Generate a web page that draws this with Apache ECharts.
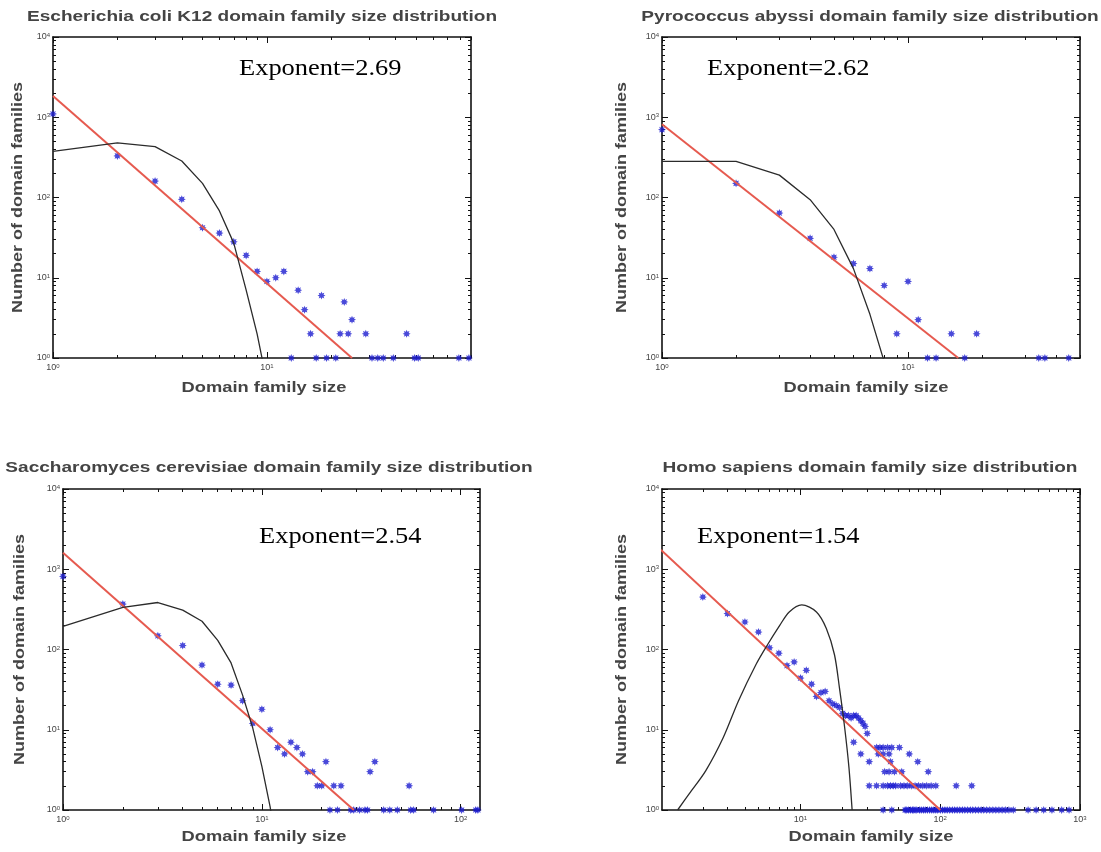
<!DOCTYPE html>
<html>
<head>
<meta charset="utf-8">
<script src="https://cdn.jsdelivr.net/npm/echarts@6/dist/echarts.min.js"></script>
<style>
  html, body { margin: 0; padding: 0; background: #fff; }
  #chart { width: 1101px; height: 852px; }
</style>
</head>
<body>
<div id="chart"></div>
<script>
// ---- data ----

// Escherichia coli K12
const ecoliSize  = [1, 2, 3, 4, 5, 6, 7, 8, 9, 10, 11, 12, 13, 14, 15, 16, 17, 18, 19, 21, 22, 23, 24, 25, 29, 31, 33, 35, 39, 45, 49, 51, 79, 88];
const ecoliCount = [1100, 330, 160, 95, 42, 36, 28, 19, 12, 9, 10, 12, 1, 7, 4, 2, 1, 6, 1, 1, 2, 5, 2, 3, 2, 1, 1, 1, 1, 2, 1, 1, 1, 1];
const ecoliFitX = [1, 25];
const ecoliFitY = [1840, 1];
const ecoliModelX = [1, 2, 3, 4, 5, 6, 7, 8, 9, 10];
const ecoliModelY = [375, 480, 430, 285, 150, 68, 27, 7, 2, 0.5];

// Pyrococcus abyssi
const pyroSize  = [1, 2, 3, 4, 5, 6, 7, 8, 9, 10, 11, 12, 13, 15, 17, 19, 34, 36, 45];
const pyroCount = [700, 150, 64, 31, 18, 15, 13, 8, 2, 9, 3, 1, 1, 2, 1, 2, 1, 1, 1];
const pyroFitX = [1, 16];
const pyroFitY = [820, 1];
const pyroModelX = [1, 2, 3, 4, 5, 6, 7, 8];
const pyroModelY = [282, 282, 190, 94, 40, 13, 3.5, 0.9];

// Saccharomyces cerevisiae
const yeastSize  = [1, 2, 3, 4, 5, 6, 7, 8, 9, 10, 11, 12, 13, 14, 15, 16, 17, 18, 19, 20, 21, 22, 23, 24, 25, 28, 29, 31, 33, 34, 35, 37, 41, 44, 48, 55, 56, 58, 73, 101, 119, 122];
const yeastCount = [815, 368, 148, 112, 64, 37, 36, 23, 12, 18, 10, 6, 5, 7, 6, 5, 3, 3, 2, 2, 4, 1, 2, 1, 2, 1, 1, 1, 1, 1, 3, 4, 1, 1, 1, 2, 1, 1, 1, 1, 1, 1];
const yeastFitX = [1, 29];
const yeastFitY = [1600, 1];
const yeastModelX = [1, 2, 3, 4, 5, 6, 7, 8, 9, 10, 11, 12];
const yeastModelY = [194, 334, 385, 310, 225, 130, 68, 27, 10.5, 3.5, 1.1, 0.3];

// Homo sapiens
const humanSize  = [2, 3, 4, 5, 6, 7, 8, 9, 10, 11, 12, 13, 14, 15, 16, 17, 18, 19, 20, 21, 22, 23, 24, 24, 25, 26, 27, 27, 28, 29, 30,
                    31, 31, 35, 35, 36, 37, 39, 39, 39, 39, 40, 42, 42, 43, 43, 44, 44, 45, 45, 46, 47, 48, 51, 52, 53, 55, 58, 60, 62, 66, 69, 70, 75, 80, 82, 86, 93, 130, 168,
                    56, 57, 59, 61, 63, 64, 66, 68, 71, 73, 76, 78, 81, 84, 87, 90, 93, 96, 100, 104, 108, 112, 117, 122, 127, 132, 138, 144, 150, 157, 164, 171, 179, 187, 196, 205, 215, 226, 238, 250, 263, 277, 292, 310, 333,
                    425, 485, 550, 630, 740, 835];
const humanCount = [450, 280, 220, 165, 105, 90, 63, 70, 44, 55, 37, 26, 29, 30, 23, 21, 20, 19, 16, 15, 15, 14, 15, 7, 15, 14, 13, 5, 12, 11, 9,
                    4, 2, 6, 2, 5, 6, 6, 5, 2, 1, 3, 6, 2, 5, 3, 4, 2, 6, 1, 2, 3, 2, 6, 2, 3, 2, 2, 5, 2, 2, 4, 2, 2, 2, 3, 2, 2, 2, 2,
                    1, 1, 1, 1, 1, 1, 1, 1, 1, 1, 1, 1, 1, 1, 1, 1, 1, 1, 1, 1, 1, 1, 1, 1, 1, 1, 1, 1, 1, 1, 1, 1, 1, 1, 1, 1, 1, 1, 1, 1, 1, 1, 1, 1, 1,
                    1, 1, 1, 1, 1, 1];
const humanFitX = [1, 100];
const humanFitY = [1750, 1];
const humanModelX = [1.32, 1.6, 2.1, 2.8, 3.6, 4.8, 5.7, 7.1, 8.3, 10.2, 13, 15.3, 17.5, 19, 20.7, 22.2, 23.4];
const humanModelY = [1, 1.6, 3.1, 8, 23, 65, 109, 200, 294, 360, 294, 183, 86, 33, 10.6, 3.4, 1];

// tick labels (decades)
const yTickLabels = [1, 10, 100, 1000, 10000];
const ecoliXLabels = [1, 10];
const pyroXLabels = [1, 10];
const yeastXLabels = [1, 10, 100];
const humanXLabels = [10, 100, 1000];

const panels = [
  { title: 'Escherichia coli K12 domain family size distribution', exponent: 'Exponent=2.69',
    size: ecoliSize, count: ecoliCount, fitX: ecoliFitX, fitY: ecoliFitY, modelX: ecoliModelX, modelY: ecoliModelY,
    xMin: 1, xMax: 90, xLabels: ecoliXLabels, smooth: false },
  { title: 'Pyrococcus abyssi domain family size distribution', exponent: 'Exponent=2.62',
    size: pyroSize, count: pyroCount, fitX: pyroFitX, fitY: pyroFitY, modelX: pyroModelX, modelY: pyroModelY,
    xMin: 1, xMax: 50, xLabels: pyroXLabels, smooth: false },
  { title: 'Saccharomyces cerevisiae domain family size distribution', exponent: 'Exponent=2.54',
    size: yeastSize, count: yeastCount, fitX: yeastFitX, fitY: yeastFitY, modelX: yeastModelX, modelY: yeastModelY,
    xMin: 1, xMax: 125, xLabels: yeastXLabels, smooth: false },
  { title: 'Homo sapiens domain family size distribution', exponent: 'Exponent=1.54',
    size: humanSize, count: humanCount, fitX: humanFitX, fitY: humanFitY, modelX: humanModelX, modelY: humanModelY,
    xMin: 1.02, xMax: 1000, xLabels: humanXLabels, smooth: 0.3 }
];

// ---- layout ----
const layout = [
  { left: 53,  top: 37,  width: 418, height: 321, titleX: 262, titleY: 17,  xNameX: 264, xNameY: 388, yNameX: 18,  expX: 239, expY: 69 },
  { left: 662, top: 37,  width: 418, height: 321, titleX: 870, titleY: 17,  xNameX: 866, xNameY: 388, yNameX: 622, expX: 707, expY: 69 },
  { left: 63,  top: 489, width: 417, height: 321, titleX: 269, titleY: 468, xNameX: 264, xNameY: 837, yNameX: 20,  expX: 259, expY: 537 },
  { left: 662, top: 489, width: 418, height: 321, titleX: 870, titleY: 468, xNameX: 871, xNameY: 837, yNameX: 622, expX: 697, expY: 537 }
];

const AX_COLOR = '#111';
const TEXT_COLOR = '#444';
const SANS = '"Liberation Sans", Arial, Helvetica, sans-serif';
const SERIF = '"Liberation Serif", "Times New Roman", serif';

// matlab-ish asterisk marker
function asteriskPath(n, rIn) {
  let d = '';
  for (let i = 0; i < 2 * n; i++) {
    const r = i % 2 ? rIn : 1;
    const a = Math.PI * i / n - Math.PI / 2;
    d += (i ? 'L' : 'M') + (r * Math.cos(a)).toFixed(3) + ' ' + (r * Math.sin(a)).toFixed(3);
  }
  return 'path://' + d + 'Z';
}
const ASTERISK = asteriskPath(8, 0.55);

// tick positions in log10 space
function minorTicks(min, max) {
  const out = [];
  for (let d = Math.floor(Math.log10(min)); d <= Math.ceil(Math.log10(max)); d++) {
    for (let k = 1; k <= 9; k++) {
      const v = k * Math.pow(10, d);
      if (v >= min && v <= max) out.push(Math.log10(v));
    }
  }
  return out;
}
function majorTicks(min, max) {
  const out = [];
  for (let d = Math.floor(Math.log10(min)); d <= Math.ceil(Math.log10(max)); d++) {
    const v = Math.pow(10, d);
    if (v >= min && v <= max) out.push(d);
  }
  return out;
}

const tickRich = {
  b: { fontSize: 9, fontFamily: SANS, color: TEXT_COLOR },
  e: { fontSize: 6, fontFamily: SANS, color: TEXT_COLOR, verticalAlign: 'top' }
};
function tickFmt(v) {
  return '{b|10}{e|' + Math.round(v) + '}';
}

// one log axis carrying data, plus four decoration axes (box sides, minor + major ticks)
function buildAxes(dim, g, min, max, labels) {
  const lo = Math.log10(min), hi = Math.log10(max);
  const sides = dim === 'x' ? ['bottom', 'top'] : ['left', 'right'];
  const list = [{
    type: 'log', logBase: 10, gridIndex: g, min: min, max: max, position: sides[0],
    axisLine: { show: false }, axisTick: { show: false }, axisLabel: { show: false }, splitLine: { show: false }
  }];
  sides.forEach(function (pos, si) {
    list.push({
      type: 'value', gridIndex: g, min: lo, max: hi, position: pos,
      axisLine: { show: true, onZero: false, lineStyle: { color: AX_COLOR, width: 1.6 } },
      axisTick: { show: true, inside: true, length: 3, customValues: minorTicks(min, max), lineStyle: { color: AX_COLOR, width: 1 } },
      axisLabel: si === 0 ? {
        show: true, customValues: labels.map(Math.log10), formatter: tickFmt, rich: tickRich,
        margin: dim === 'x' ? 5 : 3
      } : { show: false },
      splitLine: { show: false }
    });
    list.push({
      type: 'value', gridIndex: g, min: lo, max: hi, position: pos,
      axisLine: { show: false, onZero: false },
      axisTick: { show: true, inside: true, length: 6, customValues: majorTicks(min, max), lineStyle: { color: AX_COLOR, width: 1 } },
      axisLabel: { show: false },
      splitLine: { show: false }
    });
  });
  return list;
}

function textEl(text, x, y, font, fill, align, sx, rot) {
  return {
    type: 'text', x: x, y: y, rotation: rot, scaleX: sx, scaleY: 1, silent: true,
    style: { text: text, font: font, fill: fill, align: align, textAlign: align, verticalAlign: 'middle', textVerticalAlign: 'middle' }
  };
}

const grids = [], xAxes = [], yAxes = [], series = [], graphics = [];

panels.forEach(function (p, g) {
  const L = layout[g];
  grids.push({ left: L.left, top: L.top, width: L.width, height: L.height, containLabel: false });
  xAxes.push.apply(xAxes, buildAxes('x', g, p.xMin, p.xMax, p.xLabels));
  yAxes.push.apply(yAxes, buildAxes('y', g, 1, 10000, yTickLabels));

  series.push({
    type: 'scatter', xAxisIndex: 5 * g, yAxisIndex: 5 * g,
    data: p.size.map(function (s, i) { return [s, p.count[i]]; }),
    symbol: ASTERISK, symbolSize: 8, itemStyle: { color: '#1c1ccf' }, z: 3
  });
  series.push({
    type: 'line', xAxisIndex: 5 * g, yAxisIndex: 5 * g, clip: true,
    data: p.fitX.map(function (x, i) { return [x, p.fitY[i]]; }),
    showSymbol: false, lineStyle: { color: '#e65a4f', width: 2 }, z: 4
  });
  series.push({
    type: 'line', xAxisIndex: 5 * g, yAxisIndex: 5 * g, clip: true, smooth: p.smooth,
    data: p.modelX.map(function (x, i) { return [x, p.modelY[i]]; }),
    showSymbol: false, lineStyle: { color: '#2b2b2b', width: 1.3 }, z: 5
  });

  graphics.push(textEl(p.title, L.titleX, L.titleY, 'bold 15px ' + SANS, TEXT_COLOR, 'center', 1.27, 0));
  graphics.push(textEl('Domain family size', L.xNameX, L.xNameY, 'bold 15px ' + SANS, TEXT_COLOR, 'center', 1.22, 0));
  graphics.push(textEl('Number of domain families', L.yNameX, L.top + L.height / 2, 'bold 15px ' + SANS, TEXT_COLOR, 'center', 1.2, Math.PI / 2));
  graphics.push(textEl(p.exponent, L.expX, L.expY, '23px ' + SERIF, '#000', 'left', 1.15, 0));
});

const chart = echarts.init(document.getElementById('chart'));
chart.setOption({
  animation: false,
  backgroundColor: '#fff',
  grid: grids,
  xAxis: xAxes,
  yAxis: yAxes,
  series: series,
  graphic: { elements: graphics }
});

window.addEventListener('resize', function () {
  chart.resize();
});
</script>
</body>
</html>
